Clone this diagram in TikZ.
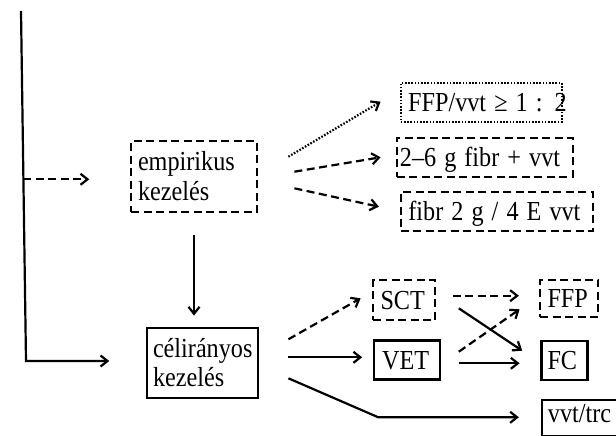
\documentclass[tikz,border=0pt]{standalone}
\usepackage{fontspec}
\usepackage{graphicx}
\setmainfont{Liberation Serif}
\usetikzlibrary{arrows.meta,calc}
\hyphenpenalty=10000
\newcommand{\sqz}[1]{\scalebox{0.88}[1]{#1}}
\begin{document}
\begin{tikzpicture}[x=1pt,y=-1pt,
  ln/.style={line width=2.2pt},
  arr/.style={ln,-{Straight Barb[length=7pt,width=11pt]}},
  dsh/.style={dash pattern=on 8pt off 4.5pt},
  dtt/.style={dash pattern=on 1.6pt off 1.6pt},
  bx/.style={draw,line width=2.2pt,inner xsep=7pt,inner ysep=0pt,align=left,font=\fontsize{27.5}{30}\selectfont},
  one/.style={bx,text height=18pt,text depth=0pt}]
\useasboundingbox (0,0) rectangle (616,436);
\clip (0,0) rectangle (616,436);
% nodes
\node[bx,dsh,minimum width=126pt,minimum height=71pt,text width=112pt] (emp) at (194,176.5) {\sqz{empirikus}\\\sqz{kezelés}};
\node[bx,font=\fontsize{27.5}{29}\selectfont,inner xsep=6pt,minimum width=111pt,minimum height=70pt,text width=99pt] (cel) at (202.5,363) {\sqz{célirányos}\\\sqz{kezelés}};
\node[one,dtt,inner xsep=7.5pt,minimum width=161pt,minimum height=39pt,text width=146pt] (ffpa) at (481.2,102.5) {\sqz{FFP/vvt ≥ 1 : 2}};
\node[one,dsh,inner xsep=3pt,minimum width=176pt,minimum height=39pt,text width=170pt] (fiba) at (484.9,157.3) {\sqz{2–6 g fibr + vvt}};
\node[one,dsh,inner xsep=7.5pt,minimum width=192pt,minimum height=39pt,text width=177pt] (fibb) at (496.9,211.7) {\sqz{fibr 2 g / 4 E vvt}};
\node[one,dsh,inner xsep=7.3pt,minimum width=62pt,minimum height=40pt,text width=47pt] (sct) at (404,300) {\sqz{SCT}};
\node[one,inner xsep=8pt,minimum width=66pt,minimum height=39pt,text width=50pt] (vet) at (407.2,360) {\sqz{VET}};
\node[one,dsh,inner xsep=7.5pt,minimum width=58pt,minimum height=37pt,text width=43pt] (ffpb) at (569,298.3) {\sqz{FFP}};
\node[one,inner xsep=5.7pt,minimum width=46pt,minimum height=39pt,text width=34pt] (fc) at (564.5,360.3) {\sqz{FC}};
\node[one,text depth=10pt,inner xsep=6pt,minimum width=80pt,minimum height=36pt,text width=68pt] (vvt) at (581.9,418) {\sqz{vvt/trc}};
% left trunk
\coordinate (top) at (21,11);
\coordinate (corner) at (26,361);
\coordinate (brk) at (23.4,179.3);
\coordinate (dend) at (89.3,179.3);
\coordinate (cend) at (109.3,361);
\draw[arr,line join=miter] (top) -- (corner) -- (cend);
\draw[arr,dsh] (brk) -- (dend);
% empirikus -> celiranyos
\draw[arr] ([yshift=-22pt]emp.south) -- ([yshift=11.3pt]emp.south |- cel.north);
% empirikus -> options
\draw[arr,dtt] ([shift={(30.3,-19.8)}]emp.east) -- ([shift={(-19,-0.8)}]ffpa.west);
\draw[arr,dsh] ([shift={(36.3,-4.8)}]emp.east) -- ([shift={(-15.2,0)}]fiba.west);
\draw[arr,dsh] ([shift={(36.3,11.8)}]emp.east) -- ([shift={(-20.9,-5)}]fibb.west);
% celiranyos -> options
\coordinate (bend) at (378.3,417.3);
\draw[arr,dsh] ([shift={(29.3,-23.7)}]cel.east) -- ([shift={(-11.3,-1.7)}]sct.west);
\draw[arr] ([shift={(29.3,-5.7)}]cel.east) -- ([shift={(-10.9,-2.7)}]vet.west);
\draw[arr] ([shift={(29.3,15.3)}]cel.east) -- (bend) -- ([shift={(-21.9,-0.7)}]vvt.west);
% SCT / VET -> FFP / FC
\draw[arr,dsh] ([shift={(16.7,-4.3)}]sct.east) -- ([shift={(-20,-2.6)}]ffpb.west);
\draw[arr] ([shift={(22.7,8.3)}]sct.east) -- ([shift={(-18.2,-9.6)}]fc.west);
\draw[arr,dsh] ([shift={(17.5,-8.3)}]vet.east) -- ([shift={(-19.3,11)}]ffpb.west);
\draw[arr] ([shift={(17.5,3.3)}]vet.east) -- ([shift={(-20.8,3)}]fc.west);
\end{tikzpicture}
\end{document}
